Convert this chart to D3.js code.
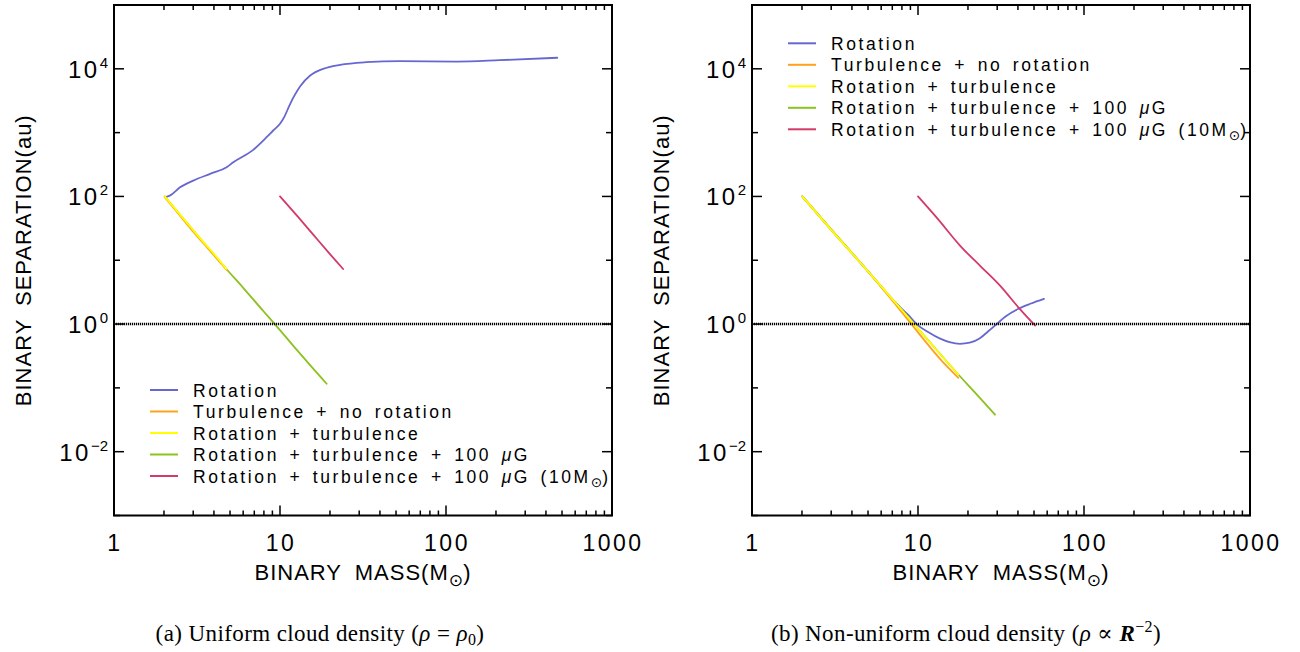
<!DOCTYPE html>
<html><head><meta charset="utf-8">
<script src="https://cdn.jsdelivr.net/npm/d3@7"></script>
<style>body{margin:0;background:#fff} svg{display:block}</style>
</head><body><svg id="c" width="1300" height="652"></svg>
<script>
// ---------- data ----------
const seriesNames = ["Rotation", "Turbulence + no rotation", "Rotation + turbulence",
  "Rotation + turbulence + 100 μG", "Rotation + turbulence + 100 μG (10M⊙)"];
const seriesColors = ["#6767d2", "#ffa11c", "#ffff00", "#8cc21e", "#d23a68"];

const xTickLabels = ["1", "10", "100", "1000"];
const xTickValues = [1, 10, 100, 1000];
const yTickValues = [1e-2, 1, 1e2, 1e4];
const yTickExps = ["−2", "0", "2", "4"];

// (a) uniform density: [mass, separation]
const aRotation = [[2.03,97],[2.17,103],[2.5,139],[3.0,177],[3.79,226],[4.77,287],[5.23,343],[6.9,537],[8.3,847],[9.1,1080],[10,1380],[10.6,1750],[11.2,2400],[12.0,3500],[13.2,5300],[15.2,7850],[18.2,10000],[23,11560],[33,12700],[53,13200],[116,13000],[211,13650],[468,14900]];
const aTurbNoRot = [[2.02,98],[2.5,50],[3,28],[3.5,17.8],[4,12],[4.4,9],[4.8,7]];
const aRotTurb = [[2.02,100],[2.5,52],[3,29.5],[3.5,18.5],[4,12.6],[4.4,9.3],[4.75,7.3]];
const aRotTurbB = [[2.02,100],[3,29.5],[4.75,7.3],[6,3.7],[8,1.56],[9.3,1.0],[12,0.46],[15,0.235],[19.1,0.116]];
const aRotTurbB10 = [[10,100],[13,46],[16,24.5],[20,12.5],[24,7.3]];

// (b) non-uniform density
const bRotation = [[2.01,100],[3,30],[5,6.7],[7.4,2.1],[8.7,1.4],[9.8,1.0],[11.5,0.75],[13.6,0.59],[15.5,0.52],[17.9,0.49],[20.5,0.51],[23.6,0.6],[26.5,0.77],[29.8,1.0],[33.5,1.3],[40,1.72],[48,2.1],[57.4,2.48]];
const bTurbNoRot = [[2.01,100],[3,30],[5,6.7],[7,2.35],[10,0.74],[14,0.26],[17.5,0.144]];
const bRotTurb = [[2.01,100],[3,30],[5,6.7],[7,2.46],[10,0.85],[14,0.31],[17.5,0.162]];
const bRotTurbB = [[2.01,100],[5,6.7],[10,0.85],[17.5,0.162],[22,0.085],[29.1,0.038]];
const bRotTurbB10 = [[10,100],[13,46],[17.9,17],[24,7.9],[31.2,4.0],[41,1.73],[50.7,0.95]];

const captions = ["a", "b"];

// ---------- drawing ----------
const svg = d3.select("#c");
svg.append("rect").attr("width",1300).attr("height",652).attr("fill","#fff");
const SANS = "'Liberation Sans', Arial, Helvetica, sans-serif";

function richText(sel, str, baseSize) {
  const parts = str.split(/(μ|⊙)/);
  let afterSub = false;
  parts.forEach(p => {
    if (!p) return;
    if (p === "μ") {
      sel.append("tspan").attr("font-style","italic").text("μ");
    } else if (p === "⊙") {
      sel.append("tspan").attr("font-family","'DejaVu Sans', sans-serif")
        .attr("font-size", baseSize*0.78).attr("dy", baseSize*0.25).attr("letter-spacing",0).text("⊙");
      afterSub = true;
    } else {
      const t = sel.append("tspan").text(p);
      if (afterSub) { t.attr("dy", -baseSize*0.25); afterSub = false; }
    }
  });
}

function panel(x0, data, legendPos) {
  const W = 498, top = 5, bot = 515.5;
  const x = d3.scaleLog().domain([1, 1000]).range([x0, x0 + W]);
  const y = d3.scaleLog().domain([1e-3, 1e5]).range([bot, top]);
  const g = svg.append("g");

  const line = d3.line().x(d => x(d[0])).y(d => y(d[1])).curve(d3.curveMonotoneX);
  const order = [0, 3, 1, 2, 4];
  order.forEach(i => {
    g.append("path").attr("d", line(data[i])).attr("fill","none")
      .attr("stroke", seriesColors[i]).attr("stroke-width", 1.8)
      .attr("stroke-linejoin","round").attr("stroke-linecap","round");
  });

  g.append("line").attr("x1", x(1)).attr("x2", x(1000)).attr("y1", y(1)).attr("y2", y(1))
    .attr("stroke","#000").attr("stroke-width",2.4).attr("stroke-dasharray","1.2,0.8");

  const tk = g.append("g").attr("stroke","#000").attr("stroke-width",1.5);
  [1,10,100].forEach(d => {
    for (let k = 1; k <= 9; k++) {
      const v = d * k, len = k === 1 ? 10 : 5, xx = x(v);
      tk.append("line").attr("x1",xx).attr("x2",xx).attr("y1",bot).attr("y2",bot-len);
      tk.append("line").attr("x1",xx).attr("x2",xx).attr("y1",top).attr("y2",top+len);
    }
  });
  for (let e = -3; e <= 5; e++) {
    const v = Math.pow(10, e), len = (e % 2 === 0) ? 10 : 6, yy = y(v);
    tk.append("line").attr("x1",x0).attr("x2",x0+len).attr("y1",yy).attr("y2",yy);
    tk.append("line").attr("x1",x0+W).attr("x2",x0+W-len).attr("y1",yy).attr("y2",yy);
  }
  g.append("rect").attr("x",x0).attr("y",top).attr("width",W).attr("height",bot-top)
    .attr("fill","none").attr("stroke","#000").attr("stroke-width",2);

  xTickValues.forEach((v, i) => {
    g.append("text").attr("x", x(v) + 1).attr("y", 551).attr("text-anchor","middle")
      .attr("font-family",SANS).attr("font-size",23).attr("letter-spacing",2.5)
      .text(xTickLabels[i]);
  });
  yTickValues.forEach((v, i) => {
    const t = g.append("text").attr("x", x0 - 6).attr("y", y(v) + 9).attr("text-anchor","end")
      .attr("font-family",SANS).attr("font-size",24).attr("letter-spacing",2.5);
    t.append("tspan").text("10");
    t.append("tspan").attr("font-size",15).attr("dy",-10).attr("letter-spacing",0).text(yTickExps[i]);
  });

  const xt = g.append("text").attr("x", x0 + W/2).attr("y", 580).attr("text-anchor","middle")
    .attr("font-family",SANS).attr("font-size",22).attr("letter-spacing",1).attr("word-spacing",6);
  richText(xt, "BINARY MASS(M⊙)", 22);
  g.append("text").attr("transform", `translate(${x0 - 83},${(top+bot)/2}) rotate(-90)`)
    .attr("text-anchor","middle").attr("font-family",SANS).attr("font-size",22)
    .attr("letter-spacing",1).attr("word-spacing",6).text("BINARY SEPARATION(au)");

  seriesNames.forEach((n, i) => {
    const ly = legendPos.y + i * 21.5;
    g.append("line").attr("x1", legendPos.x).attr("x2", legendPos.x + 28)
      .attr("y1", ly).attr("y2", ly).attr("stroke", seriesColors[i]).attr("stroke-width", 2);
    const t = g.append("text").attr("x", legendPos.x + 43).attr("y", ly + 6.5)
      .attr("font-family",SANS).attr("font-size",17.5).attr("letter-spacing",2.6).attr("word-spacing",3);
    richText(t, n, 17.5);
  });
}

panel(114, [aRotation, aTurbNoRot, aRotTurb, aRotTurbB, aRotTurbB10], {x:150, y:390});
panel(752, [bRotation, bTurbNoRot, bRotTurb, bRotTurbB, bRotTurbB10], {x:788, y:43.3});

const SERIF = "'Liberation Serif', 'DejaVu Serif', serif";
const ca = svg.append("text").attr("x", 320).attr("y", 641).attr("text-anchor","middle")
  .attr("font-family",SERIF).attr("font-size",23).attr("letter-spacing",0.4);
ca.append("tspan").text("(" + captions[0] + ") Uniform cloud density (");
ca.append("tspan").attr("font-style","italic").text("ρ");
ca.append("tspan").text(" = ");
ca.append("tspan").attr("font-style","italic").text("ρ");
ca.append("tspan").attr("font-size",16).attr("dy",4).text("0");
ca.append("tspan").attr("dy",-4).text(")");

const cb = svg.append("text").attr("x", 966).attr("y", 641).attr("text-anchor","middle")
  .attr("font-family",SERIF).attr("font-size",23).attr("letter-spacing",0.4);
cb.append("tspan").text("(" + captions[1] + ") Non-uniform cloud density (");
cb.append("tspan").attr("font-style","italic").text("ρ");
cb.append("tspan").text(" ∝ ");
cb.append("tspan").attr("font-style","italic").attr("font-weight","bold").text("R");
cb.append("tspan").attr("font-size",16).attr("dy",-9).text("−2");
cb.append("tspan").attr("dy",9).text(")");
</script></body></html>
